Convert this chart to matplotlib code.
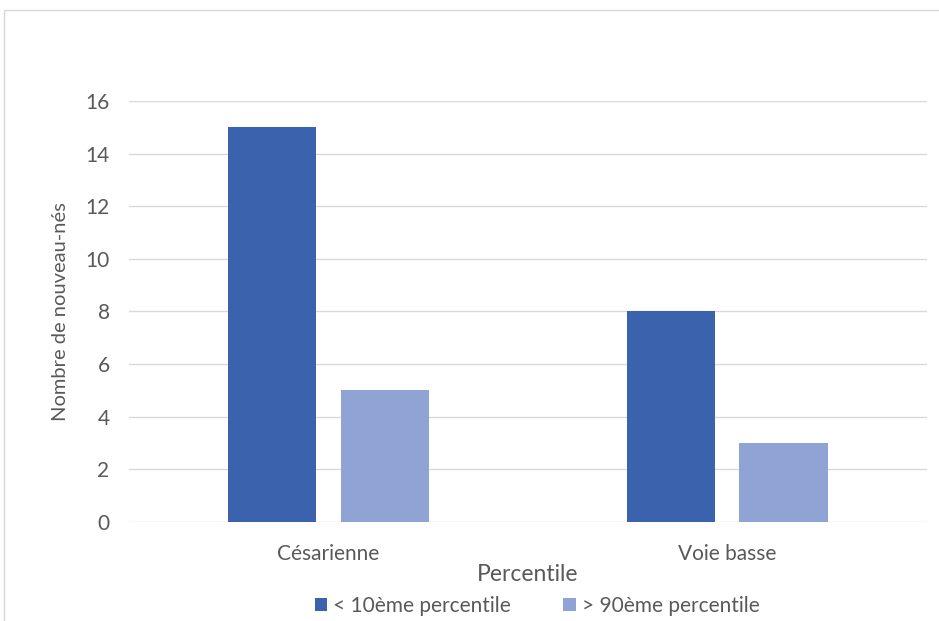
import matplotlib.pyplot as plt
import numpy as np
from matplotlib.patches import Rectangle

categories = ["Césarienne", "Voie basse"]
below_10 = [15, 8]
above_90 = [5, 3]
series_names = ["< 10ème percentile", "> 90ème percentile"]
yticks = [0, 2, 4, 6, 8, 10, 12, 14, 16]

plt.rcParams['font.family'] = ['Lato', 'DejaVu Sans']
text_col = '#595959'

fig = plt.figure(figsize=(9.39, 6.21), dpi=100)
ax = fig.add_axes([0.1374, 0.1594, 0.8498, 0.678])

x = np.arange(len(categories))
w = 0.223
off = 0.1416
ax.bar(x - off, below_10, w, color='#3A62AD', label=series_names[0], zorder=3)
ax.bar(x + off, above_90, w, color='#8FA4D4', label=series_names[1], zorder=3)

ax.set_xlim(-0.5, 1.5)
ax.set_ylim(0, 16)
ax.set_yticks(yticks)
ax.set_xticks(x)
ax.set_xticklabels(categories)
ax.grid(axis='y', color='#D9D9D9', linewidth=1, zorder=0)
for s in ax.spines.values():
    s.set_visible(False)
ax.tick_params(length=0, labelsize=15, colors=text_col, pad=14)
ax.tick_params(axis='x', pad=16)

ax.set_ylabel("Nombre de nouveau-nés", fontsize=14.5, color=text_col, labelpad=12)
ax.set_xlabel("Percentile", fontsize=16.5, color=text_col, labelpad=0)

fig.legend(loc='center', bbox_to_anchor=(0.572, 0.024), ncol=2, frameon=False,
           fontsize=15, labelcolor=text_col, handlelength=0.6, handleheight=0.6,
           handletextpad=0.3, columnspacing=2.5)

fig.patches.append(Rectangle((4 / 939, -0.1), 1.1, 1 - 10 / 621 + 0.1,
                             transform=fig.transFigure, fill=False,
                             edgecolor='#D9D9D9', linewidth=1))

fig.savefig("out.png", dpi=100)
